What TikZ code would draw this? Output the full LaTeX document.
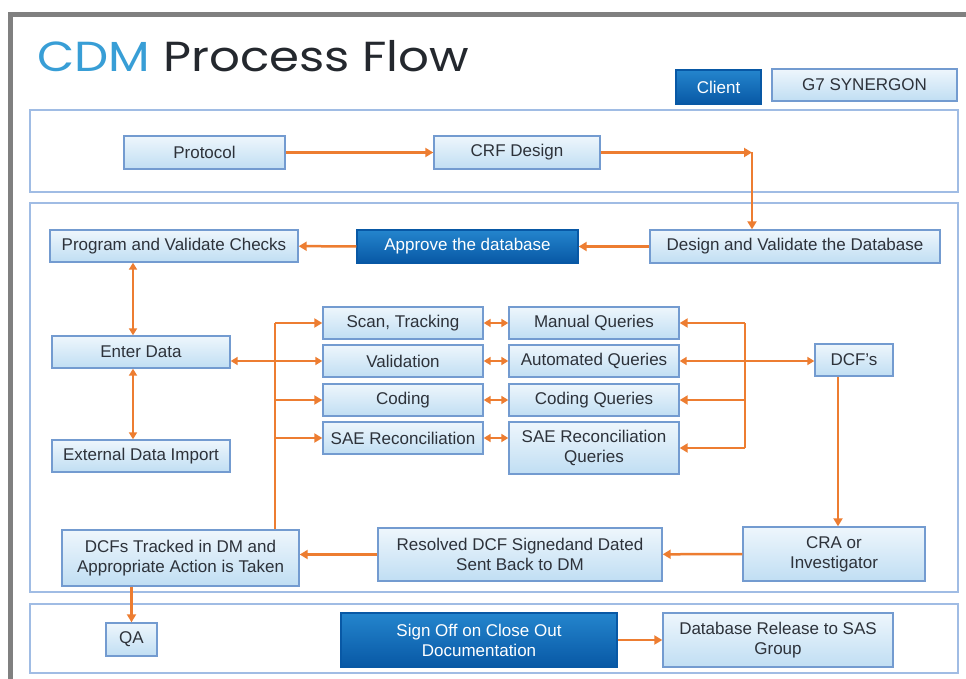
\documentclass[tikz,border=0pt]{standalone}
\usepackage{fontspec}
\setmainfont{Liberation Sans}
\newfontfamily\titlefont{Poppins}
\usetikzlibrary{arrows.meta,positioning}

\definecolor{flowor}{RGB}{237,125,49}
\definecolor{boxtop}{RGB}{238,246,252}
\definecolor{boxbot}{RGB}{192,222,243}
\definecolor{boxline}{RGB}{115,155,208}
\definecolor{darktop}{RGB}{36,133,205}
\definecolor{darkbot}{RGB}{8,88,165}
\definecolor{panelline}{RGB}{160,188,228}
\definecolor{cdmblue}{RGB}{56,158,214}
\definecolor{txtgray}{RGB}{45,50,58}

\begin{document}
\begin{tikzpicture}[x=1pt,y=-1pt,
  every node/.style={font=\fontsize{17}{20}\selectfont, inner sep=0pt, align=center},
  lightbox/.style={draw=boxline, line width=1.4pt, top color=boxtop, bottom color=boxbot, text=txtgray},
  darkbox/.style={draw=darkbot, line width=1.4pt, top color=darktop, bottom color=darkbot, text=white},
  panel/.style={draw=panelline, line width=1.8pt, fill=white},
  flowline/.style={draw=flowor, line width=2.5pt},
  flow/.style={flowline, -{Triangle[length=8pt,width=9pt]}},
  flowboth/.style={flowline, {Triangle[length=7pt,width=8pt]}-{Triangle[length=7pt,width=8pt]}}]

\useasboundingbox (0,0) rectangle (966,679);

%% Frame
\draw[line width=5pt, color=gray] (10.5,679) -- (10.5,14.5) -- (966,14.5);

%% Title
\node[anchor=base west, font=\titlefont\fontsize{42}{42}\selectfont] (title) at (37,72)
  {\scalebox{1.15}[1]{\textcolor{cdmblue}{CDM} \textcolor{txtgray!80!black}{Process Flow}}};

%% Legend
\node[darkbox, minimum width=85, minimum height=34] (client) at (718.5,87) {Client};
\node[lightbox, minimum width=185, minimum height=32] (synergon) at (864.5,85) {G7 SYNERGON};

%% Panels
\draw[panel] (30,110) rectangle (958,192);
\draw[panel] (30,203) rectangle (958,592);
\draw[panel] (30,604) rectangle (958,673);

% Setup row
\node[lightbox, minimum width=161, minimum height=33] (protocol) at (204.5,152.5) {Protocol};
\node[lightbox, minimum width=166, minimum height=33] (crf) at (517,152.5) {CRF Design};
\coordinate (crfcorner) at (752,152.5);

% Database row
\node[lightbox, minimum width=248, minimum height=32] (checks) at (174,246) {Program and Validate Checks};
\node[darkbox, minimum width=221, minimum height=33] (approve) at (467.5,246.5) {Approve the database};
\node[lightbox, minimum width=290, minimum height=33] (design) at (795,246.5) {Design and Validate the Database};

% Data entry column
\node[lightbox, minimum width=178, minimum height=32] (enter) at (141,352) {Enter Data};
\node[lightbox, minimum width=178, minimum height=32] (external) at (141,456) {External Data Import};
\coordinate (leftx) at (133,0);

% Processing column
\node[lightbox, minimum width=160, minimum height=32] (scan) at (403,323) {Scan, Tracking};
\node[lightbox, minimum width=160, minimum height=32] (validation) at (403,361) {Validation};
\node[lightbox, minimum width=160, minimum height=32] (coding) at (403,400) {Coding};
\node[lightbox, minimum width=160, minimum height=32] (sae) at (403,438) {SAE Reconciliation};
\coordinate (leftbus) at (275,0);

% Queries column
\node[lightbox, minimum width=170, minimum height=32] (manual) at (594,323) {Manual Queries};
\node[lightbox, minimum width=170, minimum height=32] (automated) at (594,361) {Automated Queries};
\node[lightbox, minimum width=170, minimum height=32] (codingq) at (594,400) {Coding Queries};
\node[lightbox, minimum width=170, minimum height=52] (saeq) at (594,448) {SAE Reconciliation\\Queries};
\coordinate (rightbus) at (745,0);

% DCF loop
\node[lightbox, minimum width=78, minimum height=32] (dcf) at (854,360) {DCF's};
\coordinate (dcfx) at (838,0);
\node[lightbox, minimum width=182, minimum height=54] (cra) at (834,554) {CRA or\\Investigator};
\node[lightbox, minimum width=284, minimum height=53] (resolved) at (520,554.5) {Resolved DCF Signedand Dated\\Sent Back to DM};
\node[lightbox, minimum width=237, minimum height=56] (tracked) at (180.5,558) {DCFs Tracked in DM and\\Appropriate Action is Taken};

% Close out row
\node[lightbox, minimum width=51, minimum height=33] (qa) at (131.5,639.5) {QA};
\node[darkbox, minimum width=276, minimum height=54] (signoff) at (479,640) {Sign Off on Close Out\\Documentation};
\node[lightbox, minimum width=230, minimum height=54] (release) at (778,640) {Database Release to SAS\\Group};

%% Connectors
\draw[flow] (protocol) -- (crf);
\draw[flow] (crf) -- (crfcorner);
\draw[flow] (crfcorner) -- (crfcorner |- design.north);
\draw[flow] (design) -- (approve);
\draw[flow] (approve) -- (checks);

\draw[flowboth] (checks.south -| leftx) -- (enter.north -| leftx);
\draw[flowboth] (enter.south -| leftx) -- (external.north -| leftx);

% left bus
\draw[flowline] (tracked.north -| leftbus) -- (scan.west -| leftbus);
\draw[flow] (scan.west -| leftbus) -- (scan);
\draw[flowboth] (validation.west -| enter.east) -- (validation.west);
\draw[flow] (coding.west -| leftbus) -- (coding);
\draw[flow] (sae.west -| leftbus) -- (sae);

% pairs
\draw[flowboth] (scan) -- (manual);
\draw[flowboth] (validation) -- (automated);
\draw[flowboth] (coding) -- (codingq);
\draw[flowboth] (sae.east) -- (sae.east -| saeq.west);

% right bus
\draw[flowline] (manual.east -| rightbus) -- (saeq.east -| rightbus);
\draw[flow] (manual.east -| rightbus) -- (manual);
\draw[flowboth] (automated) -- (automated -| dcf.west);
\draw[flow] (codingq.east -| rightbus) -- (codingq);
\draw[flow] (saeq.east -| rightbus) -- (saeq);

\draw[flow] (dcf.south -| dcfx) -- (cra.north -| dcfx);
\draw[flow] (cra) -- (resolved);
\draw[flow] (resolved) -- (resolved -| tracked.east);
\draw[flow] (qa.north |- tracked.south) -- (qa);
\draw[flow] (signoff) -- (release);
\end{tikzpicture}
\end{document}
